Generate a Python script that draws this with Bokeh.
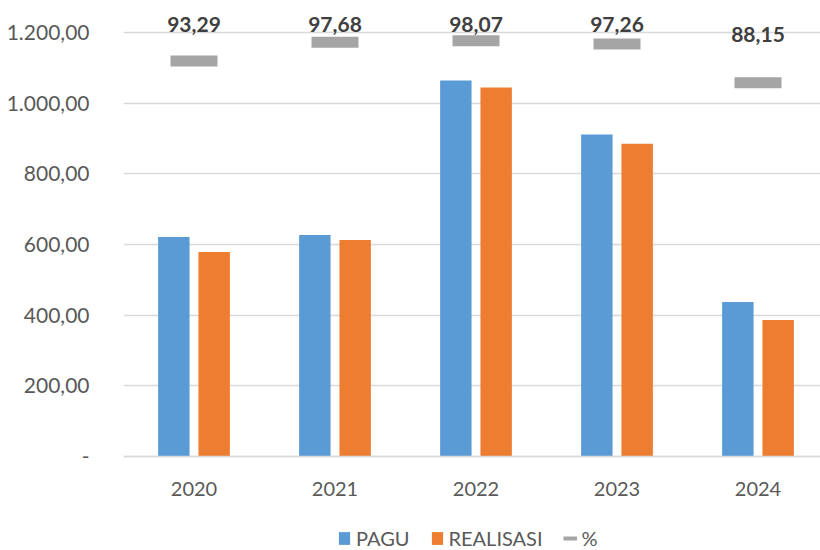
from bokeh.plotting import figure
from bokeh.models import Range1d, FixedTicker, Legend, LegendItem, ColumnDataSource
from bokeh.core.properties import value
from bokeh.embed import file_html
from bokeh.resources import INLINE

# ---- data ----
YEARS = ["2020", "2021", "2022", "2023", "2024"]
PAGU = [621, 627, 1064, 911, 437]
REALISASI = [579, 613, 1044, 885, 386]
PERSEN = [93.29, 97.68, 98.07, 97.26, 88.15]
PERSEN_LABELS = ["93,29", "97,68", "98,07", "97,26", "88,15"]
Y_TICKS = [0, 200, 400, 600, 800, 1000, 1200]
Y_TICK_LABELS = ["-", "200,00", "400,00", "600,00", "800,00", "1.000,00", "1.200,00"]

# ---- style ----
BLUE = "#5B9BD5"
ORANGE = "#ED7D31"
GRAY = "#A5A5A5"
GRID = "#D9D9D9"
TXT = "#595959"
FONT = "Lato"

W, H = 820, 550
LEFT, TOP = 123, 10
ZERO_PX = 456          # screen row of value 0
PX_PER_UNIT = 424 / 1200.0
PX_PER_PCT = 4.24
PX_PER_CAT = 141.0

Y_END = (ZERO_PX - TOP) / PX_PER_UNIT
Y_START = -(H - ZERO_PX) / PX_PER_UNIT
PCT_END = (ZERO_PX - TOP) / PX_PER_PCT
PCT_START = -(H - ZERO_PX) / PX_PER_PCT
X_END = -0.5 + (W - LEFT) / PX_PER_CAT

LABEL_GAP = 48.0 / PX_PER_PCT
LABEL_CAP = (ZERO_PX - 23.5) / PX_PER_PCT

xs = list(range(len(YEARS)))
OFF = 0.143
BW = 0.223

src = ColumnDataSource(dict(
    x=xs,
    xp=[x - OFF for x in xs],
    xr=[x + OFF for x in xs],
    pagu=PAGU,
    real=REALISASI,
    pct=PERSEN,
    lbl=PERSEN_LABELS,
    lbl_y=[min(v + LABEL_GAP, LABEL_CAP) for v in PERSEN],
))

p = figure(width=W, height=H, output_backend="svg", toolbar_location=None,
           x_range=Range1d(-0.5, X_END), y_range=Range1d(Y_START, Y_END),
           min_border_left=LEFT, min_border_right=0, min_border_top=TOP, min_border_bottom=0)
p.extra_y_ranges = {"pct": Range1d(PCT_START, PCT_END)}
p.outline_line_color = None
p.background_fill_color = "white"

p.xgrid.visible = False
p.ygrid.ticker = FixedTicker(ticks=Y_TICKS)
p.ygrid.grid_line_color = GRID
p.ygrid.grid_line_width = 1.5

r1 = p.vbar(x="xp", top="pagu", width=BW, source=src, fill_color=BLUE, line_color=None)
r2 = p.vbar(x="xr", top="real", width=BW, source=src, fill_color=ORANGE, line_color=None)
p.rect(x="x", y="pct", width=47, height=11, width_units="screen", height_units="screen",
       source=src, fill_color=GRAY, line_color=None, y_range_name="pct")
p.text(x="x", y="lbl_y", text="lbl", source=src, y_range_name="pct",
       text_font=value(FONT), text_font_style="bold", text_font_size="21px",
       text_color="#404040", text_align="center", text_baseline="middle")
# legend-only proxy for the "%" series (NaN values draw nothing on the plot)
nan = float("nan")
r3 = p.line(x=[nan, nan], y=[nan, nan], line_color=GRAY, line_width=4, y_range_name="pct")

p.yaxis.ticker = FixedTicker(ticks=Y_TICKS)
p.yaxis.major_label_overrides = {t: l for t, l in zip(Y_TICKS, Y_TICK_LABELS)}
p.yaxis.axis_line_color = None
p.yaxis.major_tick_line_color = None
p.yaxis.minor_tick_line_color = None
p.yaxis.major_label_text_font = FONT
p.yaxis.major_label_text_font_size = "21px"
p.yaxis.major_label_text_color = TXT
p.yaxis.major_label_standoff = 28

p.xaxis.fixed_location = 0
p.xaxis.ticker = FixedTicker(ticks=xs)
p.xaxis.major_label_overrides = {i: y for i, y in zip(xs, YEARS)}
p.xaxis.axis_line_color = GRID
p.xaxis.axis_line_width = 1.5
p.xaxis.major_tick_line_color = None
p.xaxis.minor_tick_line_color = None
p.xaxis.major_label_text_font = FONT
p.xaxis.major_label_text_font_size = "20px"
p.xaxis.major_label_text_color = TXT
p.xaxis.major_label_standoff = 19

legend = Legend(items=[LegendItem(label="PAGU", renderers=[r1]),
                       LegendItem(label="REALISASI", renderers=[r2]),
                       LegendItem(label="%", renderers=[r3])],
                location=(214, 0), orientation="horizontal",
                glyph_width=14, glyph_height=16, label_standoff=5, spacing=20,
                padding=0, margin=0, label_height=18,
                label_text_font=FONT, label_text_font_size="20px", label_text_color=TXT,
                background_fill_alpha=0, border_line_color=None)
p.add_layout(legend, "center")

open("out.html", "w").write(file_html(p, INLINE))
